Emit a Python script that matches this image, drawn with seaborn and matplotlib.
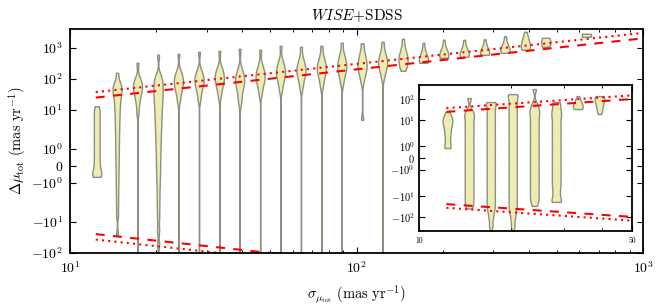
import numpy as np
import pandas as pd
import matplotlib
matplotlib.use("Agg")
import matplotlib.pyplot as plt
from matplotlib.ticker import FixedLocator, NullLocator, NullFormatter, LogLocator
import seaborn as sns

# ---------------- data ----------------
# bin centres of sigma_mu_tot (mas/yr), main panel
sigma_main = [12.4, 14.6, 17.2, 20.3, 23.9, 28.2, 33.2, 39.1, 46.1, 54.3, 64.0, 75.4,
              88.8, 104.6, 123.3, 145.3, 171.2, 201.7, 237.6, 280.0, 329.8, 388.5,
              457.7, 634.5]

# Delta mu_tot samples per bin (mas/yr), main panel
dmu_12 = [12.9, 10.0, 7.38, 5.48, 4.07, 3.03, 2.25, 1.86, 1.63, 1.39, 1.16, 0.93, 0.70,
          0.46, 0.23, 0.0, -0.23, -0.41, -0.52, -0.61, -0.64]
dmu_15 = [155, 79.4, 63.5, 54.8, 47.2, 40.7, 35.1, 28.1, 22.5, 17.3, 13.4, 10.0, 7.38,
          5.28, 3.78, 2.61, 1.92, 1.60, 1.28, 0.93, 0.58, 0.20, -0.20, -0.64, -1.10,
          -1.63, -2.61, -5.9, -26.1]
dmu_17 = [326, 107, 85.5, 71.1, 61.2, 52.8, 45.5, 37.8, 30.3, 22.5, 15.5, 8.0, -300]
dmu_20 = [590, 134, 107, 88.7, 73.8, 61.2, 50.8, 42.3, 35.1, 29.1, 24.2, 20.1, 16.7,
          13.4, 10.7, 8.55, 6.84, 5.28, 4.07, 3.14, 2.42, 1.92, 1.68, 1.45, 1.19, 0.93,
          0.64, 0.35, 0.03, -0.29, -0.64, -1.01, -1.45, -1.92, -3.51, -7.38, -18.0,
          -54.8, -240]
dmu_24 = [636, 180, 144, 119, 103, 88.7, 76.5, 65.9, 56.9, 47.2, 37.8, 28.1, 18.0, -400]
dmu_28 = [738, 194, 149, 124, 107, 92.2, 79.4, 68.4, 56.9, 45.5, 32.6, 20.9, -400]
dmu_33 = [794, 242, 187, 155, 129, 111, 95.7, 82.4, 68.4, 54.8, 40.7, 26.1, -500]
dmu_39 = [922, 225, 167, 134, 111, 95.7, 82.4, 71.1, 59.0, 47.2, 35.1, 24.2, 15.5, -500]
dmu_46 = [855, 303, 225, 180, 149, 129, 111, 95.7, 79.4, 63.5, 47.2, 30.2, -500]
dmu_54 = [1151, 407, 303, 242, 201, 173, 149, 129, 107, 85.5, 63.5, 40.7, -600]
dmu_64 = [1069, 472, 351, 281, 233, 201, 173, 149, 124, 99.3, 73.8, 47.2, -600]
dmu_75 = [1151, 548, 407, 326, 270, 233, 201, 173, 144, 115, 85.5, 54.8, -600]
dmu_89 = [1439, 684, 508, 392, 326, 281, 242, 208, 173, 139, 107, 68.4, -700]
dmu_105 = [1387, 738, 548, 423, 338, 281, 242, 201, 161, 124, 79.4, 4.72]
dmu_123 = [1550, 794, 590, 472, 392, 338, 291, 251, 208, 161, 107, -700]
dmu_145 = [1936, 993, 738, 590, 508, 438, 378, 326, 270, 216, 180]
dmu_171 = [1439, 738, 590, 490, 423, 378, 351, 326, 326]
dmu_202 = [1798, 993, 794, 684, 612, 569, 528, 498, 472, 472]
dmu_238 = [1798, 993, 794, 684, 622, 577, 540, 508, 508]
dmu_280 = [1866, 993, 824, 721, 659, 617, 590, 590]
dmu_330 = [2333, 1336, 1069, 922, 824, 754, 711, 684, 684]
dmu_389 = [3258, 2421, 2010, 1734, 1550, 1387, 1240, 1127, 1030, 957, 902, 855, 855]
dmu_458 = [2085, 2085, 1966, 1826, 1671, 1517, 1365, 1222, 1109, 1069, 1069]
dmu_635 = [2806, 2606, 2421, 2249]

dmu_main = [dmu_12, dmu_15, dmu_17, dmu_20, dmu_24, dmu_28, dmu_33, dmu_39, dmu_46,
            dmu_54, dmu_64, dmu_75, dmu_89, dmu_105, dmu_123, dmu_145, dmu_171,
            dmu_202, dmu_238, dmu_280, dmu_330, dmu_389, dmu_458, dmu_635]

# inset panel
sigma_inset = [12.4, 14.6, 17.2, 20.3, 23.9, 28.2, 33.2, 39.1]
ins_12 = [24.0, 17.3, 13.9, 11.8, 10.0, 8.48, 7.2, 6.1, 4.9, 3.94, 2.99, 2.28, 1.89,
          1.63, 1.37, 1.11, 0.86, 0.86]
ins_15 = [111.6, 29.9, 21.5, 16.4, 12.5, 8.96, 6.45, 4.64, 3.34, 2.41, 1.89, 1.63, 1.37,
          1.11, 0.86, 0.60, 0.34, 0.09, -0.17, -0.43, -0.69, -0.94, -1.20, -1.46, -1.71,
          -1.97, -2.68, -3.73, -5.18, -7.2, -10.0, -13.9, -19.3, -26.8, -39.4]
ins_17 = [72.0, 72.0, 51.8, 37.3, 26.8, 19.3, 13.9, 10.0, 7.20, 5.18, 3.73, 2.68, 1.97,
          1.71, 1.46, 1.20, 0.94, 0.69, 0.43, 0.17, -0.09, -0.34, -0.60, -0.86, -1.11,
          -1.37, -1.63, -1.89, -2.41, -3.34, -4.64, -6.45, -8.96, -12.5, -17.3, -24.0,
          -33.4, -46.4, -72.0, -124, -268, -804]
ins_20 = [173, 173, 124, 89.6, 64.5, 46.4, 33.4, 24.0, 17.3, 12.5, 8.96, 6.45, 4.64,
          3.34, 2.41, 1.89, 1.63, 1.37, 1.11, 0.86, 0.60, 0.34, 0.09, -0.17, -0.43,
          -0.69, -0.94, -1.20, -1.46, -1.71, -1.97, -2.68, -3.73, -5.18, -7.20, -10.0,
          -13.9, -19.3, -26.8, -37.3, -51.8, -80.3, -139, -299, -896]
ins_24 = [299, 64.5, 41.6, 29.9, 22.8, 17.3, 12.5, 8.96, 6.45, 4.64, 3.34, 2.41, 1.89,
          1.63, 1.37, 1.11, 0.86, 0.60, 0.34, 0.09, -0.17, -0.43, -0.69, -0.94, -1.20,
          -1.46, -1.71, -1.97, -2.68, -3.73, -5.18, -7.2, -10.0, -13.9, -19.3, -29.9]
ins_28 = [72.0, 57.8, 37.3, 26.8, 20.4, 15.5, 11.2, 8.03, 5.78, 4.16, 2.99, 2.15, 1.80,
          1.54, 1.29, 1.03, 0.77, 0.51, 0.26, 0.0, -0.26, -0.51, -0.77, -1.03, -1.29,
          -1.54, -1.80, -2.15, -2.99, -4.16, -6.1, -8.96, -13.2, -19.3, -19.3]
ins_33 = [139, 94.7, 76.0, 64.5, 55.9, 49.0, 43.4, 38.9, 35.7, 33.4, 33.4]
ins_39 = [139, 139, 124, 109, 94.7, 80.3, 66.7, 54.7, 44.0, 34.5, 26.8, 19.3]
dmu_inset = [ins_12, ins_15, ins_17, ins_20, ins_24, ins_28, ins_33, ins_39]

# reference lines: |dmu| = 2 sigma (dashed) and 3 sigma (dotted)
line_sigma = [12.3, 1000.0]
line_2sig = [24.6, 2000.0]
line_3sig = [36.9, 3000.0]
line_m2sig = [-24.6, -2000.0]
line_m3sig = [-36.9, -3000.0]

ytick_vals_main = [-100, -10, -1, 0, 1, 10, 100, 1000]
ytick_lbl_main = [r'$-10^{2}$', r'$-10^{1}$', r'$-10^{0}$', r'$0$', r'$10^{0}$',
                  r'$10^{1}$', r'$10^{2}$', r'$10^{3}$']
ytick_vals_ins = [-100, -10, -1, 0, 1, 10, 100]
ytick_lbl_ins = [r'$-10^{2}$', r'$-10^{1}$', r'$-10^{0}$', r'$0$', r'$10^{0}$',
                 r'$10^{1}$', r'$10^{2}$']
xtick_vals_main = [10, 100, 1000]
xtick_lbl_main = [r'$10^{1}$', r'$10^{2}$', r'$10^{3}$']
xtick_vals_ins = [10, 50]
xtick_lbl_ins = ['10', '50']


def to_frame(xs, groups):
    rows = [(x, v) for x, g in zip(xs, groups) for v in g]
    return pd.DataFrame(rows, columns=['sigma', 'dmu'])


df_main = to_frame(sigma_main, dmu_main)
df_ins = to_frame(sigma_inset, dmu_inset)

# ---------------- style ----------------
plt.rcParams['font.family'] = ['cmr10', 'DejaVu Serif']
plt.rcParams['mathtext.fontset'] = 'cm'
plt.rcParams['axes.formatter.use_mathtext'] = True
plt.rcParams['axes.unicode_minus'] = False
for a in ('x', 'y'):
    plt.rcParams[f'{a}tick.direction'] = 'in'
    plt.rcParams[f'{a}tick.major.size'] = 4.5
    plt.rcParams[f'{a}tick.minor.size'] = 2.2
    plt.rcParams[f'{a}tick.major.width'] = 0.8
    plt.rcParams[f'{a}tick.minor.width'] = 0.7
plt.rcParams['xtick.top'] = True
plt.rcParams['ytick.right'] = True

FACE = (0.925, 0.925, 0.70)
EDGE = (0.56, 0.56, 0.50)
KDE_BW = 0.3   # kernel width in the axis' own (symlog) units


def fixed_bandwidth(kde):
    d = np.asarray(kde.dataset).ravel()
    return KDE_BW / d.std(ddof=1)


def draw_violins(ax, df):
    n0 = len(ax.collections)
    sns.violinplot(data=df, x='sigma', y='dmu', native_scale=True, orient='x',
                   density_norm='width', cut=0, inner=None, width=0.45,
                   gridsize=600, bw_method=fixed_bandwidth, color=FACE,
                   saturation=1, linecolor=EDGE, linewidth=1.0, ax=ax)
    for c in ax.collections[n0:]:
        c.set_facecolor(FACE)
        c.set_edgecolor(EDGE)
        c.set_linewidth(1.0)


def draw_lines(ax):
    kw = dict(color='red', lw=1.5)
    ax.plot(line_sigma, line_2sig, dashes=(4.3, 4.0), **kw)
    ax.plot(line_sigma, line_m2sig, dashes=(4.3, 4.0), **kw)
    ax.plot(line_sigma, line_3sig, dashes=(1.0, 2.0), **kw)
    ax.plot(line_sigma, line_m3sig, dashes=(1.0, 2.0), **kw)


fig = plt.figure(figsize=(6.64, 3.07), dpi=100)

# ---------------- main panel ----------------
ax = fig.add_axes([0.1054, 0.1759, 0.8630, 0.7296])
ax.set_xscale('log')
ax.set_yscale('symlog', linthresh=2, linscale=1)
draw_violins(ax, df_main)
draw_lines(ax)
ax.set_xlim(10, 1000)
ax.set_ylim(-100, 4000)
ax.yaxis.set_major_locator(FixedLocator(ytick_vals_main))
ax.set_yticklabels(ytick_lbl_main)
ax.yaxis.set_minor_locator(NullLocator())
ax.xaxis.set_major_locator(FixedLocator(xtick_vals_main))
ax.set_xticklabels(xtick_lbl_main)
ax.xaxis.set_minor_locator(LogLocator(base=10, subs=np.arange(2, 10)))
ax.xaxis.set_minor_formatter(NullFormatter())
ax.tick_params(labelsize=10, pad=5)
ax.set_xlabel(r'$\sigma_{\mu_{\rm tot}}\ (\mathrm{mas\ yr}^{-1})$', fontsize=10.5, labelpad=6)
ax.set_ylabel(r'$\Delta\mu_{\rm tot}\ (\mathrm{mas\ yr}^{-1})$', fontsize=10.5, labelpad=2)
ax.set_title(r'$WISE$+SDSS', fontsize=11, pad=6)
for s in ax.spines.values():
    s.set_linewidth(1.3)

# ---------------- inset ----------------
axi = fig.add_axes([0.631, 0.2476, 0.3208, 0.4756])
axi.set_xscale('log')
axi.set_yscale('symlog', linthresh=2, linscale=1)
draw_violins(axi, df_ins)
draw_lines(axi)
axi.set_xlim(10, 50)
axi.set_ylim(-470, 470)
axi.yaxis.set_major_locator(FixedLocator(ytick_vals_ins))
axi.set_yticklabels(ytick_lbl_ins)
axi.yaxis.set_minor_locator(NullLocator())
axi.xaxis.set_major_locator(FixedLocator(xtick_vals_ins))
axi.set_xticklabels(xtick_lbl_ins)
axi.xaxis.set_minor_locator(FixedLocator([20, 30, 40]))
axi.xaxis.set_minor_formatter(NullFormatter())
axi.tick_params(axis='y', labelsize=7.5, pad=3)
axi.tick_params(axis='x', labelsize=5.5, pad=4)
axi.set_xlabel('')
axi.set_ylabel('')
for s in axi.spines.values():
    s.set_linewidth(1.3)

fig.savefig('out.png', dpi=100)
